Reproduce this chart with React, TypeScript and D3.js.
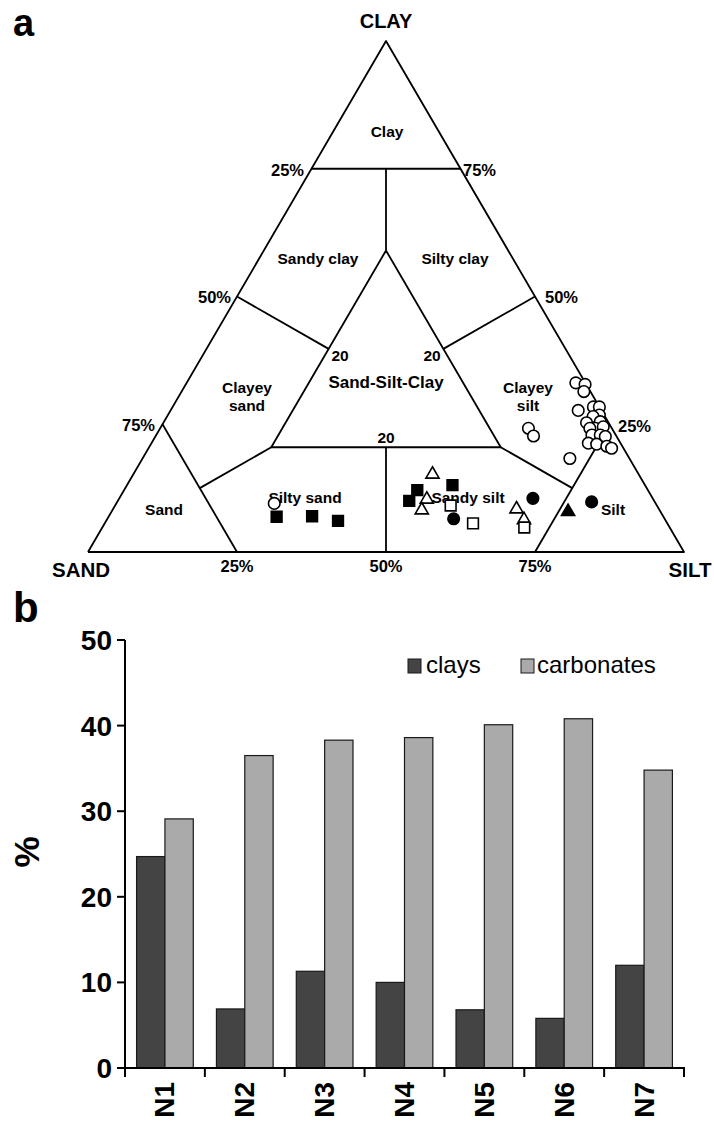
import React from "react"
import * as d3 from "d3"

// ---- panel a: Shepard ternary diagram, points as [clay %, silt %] (sand = rest)
const openCircles = [
  [9.5, 26.5],
  [33.1, 65.3], [32.8, 67.0], [31.4, 67.5], [27.7, 68.4], [28.4, 70.6],
  [28.4, 71.6], [26.8, 72.4], [26.5, 71.5], [25.3, 71.0], [25.5, 73.2],
  [24.2, 73.0], [24.5, 74.2], [24.2, 72.1], [22.9, 73.1], [22.9, 74.5],
  [22.6, 75.5], [21.3, 73.3], [21.1, 74.8], [20.7, 76.7], [20.3, 77.7],
  [24.2, 61.8], [22.7, 63.4], [18.3, 71.7],
]
const filledSquares = [
  [6.9, 28.2], [7.0, 34.1], [6.1, 38.9], [12.1, 49.2], [10.0, 48.9], [13.1, 54.6],
]
const openTriangles = [[15.2, 50.2], [10.3, 51.7], [8.2, 51.9], [8.4, 67.7], [6.3, 70.0]]
const openSquares = [[9.1, 56.3], [5.6, 61.8], [4.8, 70.8]]
const filledCircles = [[6.5, 58.1], [10.5, 69.4], [9.8, 79.6]]
const filledTriangles = [[7.9, 76.6]]

// class boundaries, [clay, silt] pairs
const boundaries = [
  [[0, 0], [0, 100], [100, 0], [0, 0]],
  [[75, 0], [75, 25]],
  [[75, 12.5], [59, 20.5]],
  [[59, 20.5], [20.5, 20.5], [20.5, 59], [59, 20.5]],
  [[50, 0], [39.75, 20.5]],
  [[50, 50], [39.75, 39.75]],
  [[20.5, 39.75], [0, 50]],
  [[25, 0], [0, 25]],
  [[25, 75], [0, 75]],
  [[20.5, 20.5], [12.5, 12.5]],
  [[20.5, 59], [12.5, 75]],
]

// ---- panel b: bars
const samples = ["N1", "N2", "N3", "N4", "N5", "N6", "N7"]
const clays = [24.7, 6.9, 11.3, 10.0, 6.8, 5.8, 12.0]
const carbonates = [29.1, 36.5, 38.3, 38.6, 40.1, 40.8, 34.8]
const yTicks = [0, 10, 20, 30, 40, 50]

const font = "'Liberation Sans', Arial, sans-serif"

export default function App() {
  // ternary projection
  const yClay = d3.scaleLinear().domain([0, 100]).range([552, 41])
  const xBase = d3.scaleLinear().domain([0, 100]).range([88, 684])
  const px = (d) => xBase(d[1] + d[0] / 2)
  const py = (d) => yClay(d[0])
  const line = d3.line().x(px).y(py)

  const sym = (type, size) => d3.symbol().type(type).size(size)()
  const circle = sym(d3.symbolCircle, 105)
  const square = sym(d3.symbolSquare, 115)
  const triangle = sym(d3.symbolTriangle, 75)

  const markers = (data, path, fill, key) =>
    data.map((d, i) => (
      <path key={key + i} d={path} transform={`translate(${px(d)},${py(d)})`}
        fill={fill} stroke="#000" strokeWidth={1.6} />
    ))

  // bar chart scales
  const y = d3.scaleLinear().domain([0, 50]).range([1068, 640])
  const x = d3.scaleBand().domain(samples).range([125, 684]).paddingInner(0.29).paddingOuter(0.145)
  const xs = d3.scaleBand().domain(["clays", "carbonates"]).range([0, x.bandwidth()])
  const edges = d3.scaleLinear().domain([0, samples.length]).range([125, 684])

  const tb = { fontFamily: font, fontWeight: "bold" }

  return (
    <svg width={714} height={1127} style={{ position: "absolute", left: 0, top: 0, background: "#fff" }}>
      {/* panel a */}
      <text x={13} y={36} fontSize={38} {...tb}>a</text>
      <text x={386} y={28} fontSize={20} textAnchor="middle" {...tb}>CLAY</text>
      <text x={81} y={577} fontSize={20.5} textAnchor="middle" {...tb}>SAND</text>
      <text x={690} y={577} fontSize={20.5} textAnchor="middle" {...tb}>SILT</text>

      {boundaries.map((b, i) => (
        <path key={"b" + i} d={line(b)} fill="none" stroke="#000" strokeWidth={1.8} strokeLinejoin="round" />
      ))}

      <g fontSize={15.5} {...tb} textAnchor="middle">
        <text x={387} y={137}>Clay</text>
        <text x={318} y={264}>Sandy clay</text>
        <text x={455} y={264}>Silty clay</text>
        <text x={247} y={393}>Clayey</text>
        <text x={247} y={411}>sand</text>
        <text x={528} y={393}>Clayey</text>
        <text x={528} y={411}>silt</text>
        <text x={386} y={388} fontSize={17}>Sand-Silt-Clay</text>
        <text x={305} y={503}>Silty sand</text>
        <text x={468} y={503}>Sandy silt</text>
        <text x={164} y={515}>Sand</text>
        <text x={613} y={515}>Silt</text>
        <text x={340} y={361}>20</text>
        <text x={432} y={361}>20</text>
        <text x={386} y={443}>20</text>
      </g>
      <g fontSize={16.5} {...tb}>
        <text x={304} y={176} textAnchor="end">25%</text>
        <text x={463} y={176}>75%</text>
        <text x={231} y={303} textAnchor="end">50%</text>
        <text x={545} y={303}>50%</text>
        <text x={155} y={431} textAnchor="end">75%</text>
        <text x={618} y={432}>25%</text>
        <text x={237} y={572} textAnchor="middle">25%</text>
        <text x={386} y={572} textAnchor="middle">50%</text>
        <text x={535} y={572} textAnchor="middle">75%</text>
      </g>

      {markers(openCircles, circle, "#fff", "oc")}
      {markers(filledSquares, square, "#000", "fs")}
      {markers(openTriangles, triangle, "#fff", "ot")}
      {markers(openSquares, square, "#fff", "os")}
      {markers(filledCircles, circle, "#000", "fc")}
      {markers(filledTriangles, triangle, "#000", "ft")}

      {/* panel b */}
      <text x={13} y={622} fontSize={42} {...tb}>b</text>
      <text transform="translate(39,852) rotate(-90)" fontSize={35} textAnchor="middle" {...tb}>%</text>

      {samples.map((s, i) => (
        <g key={s}>
          <rect x={x(s) + xs("clays")} y={y(clays[i])} width={xs.bandwidth()} height={y(0) - y(clays[i])}
            fill="#444" stroke="#1a1a1a" strokeWidth={1.2} />
          <rect x={x(s) + xs("carbonates")} y={y(carbonates[i])} width={xs.bandwidth()}
            height={y(0) - y(carbonates[i])} fill="#aaa" stroke="#1a1a1a" strokeWidth={1.2} />
          <text transform={`translate(${x(s) + x.bandwidth() / 2},1082) rotate(-90)`} textAnchor="end"
            dominantBaseline="central" fontSize={28} {...tb}>{s}</text>
        </g>
      ))}

      <line x1={125} x2={125} y1={y(50)} y2={y(0)} stroke="#000" strokeWidth={2} />
      <line x1={125} x2={685} y1={y(0)} y2={y(0)} stroke="#000" strokeWidth={2} />
      {yTicks.map((t) => (
        <g key={t}>
          <line x1={117} x2={125} y1={y(t)} y2={y(t)} stroke="#000" strokeWidth={2} />
          <text x={112} y={y(t)} dy="0.36em" textAnchor="end" fontSize={28} {...tb}>{t}</text>
        </g>
      ))}
      {d3.range(samples.length + 1).map((i) => (
        <line key={i} x1={edges(i)} x2={edges(i)} y1={y(0)} y2={y(0) + 9} stroke="#000" strokeWidth={2} />
      ))}

      {/* legend */}
      <rect x={408} y={659} width={13} height={14} fill="#444" stroke="#1a1a1a" />
      <text x={426} y={673} fontSize={24} fontFamily={font}>clays</text>
      <rect x={521} y={659} width={13} height={14} fill="#aaa" stroke="#1a1a1a" />
      <text x={537} y={673} fontSize={24} fontFamily={font}>carbonates</text>
    </svg>
  )
}
